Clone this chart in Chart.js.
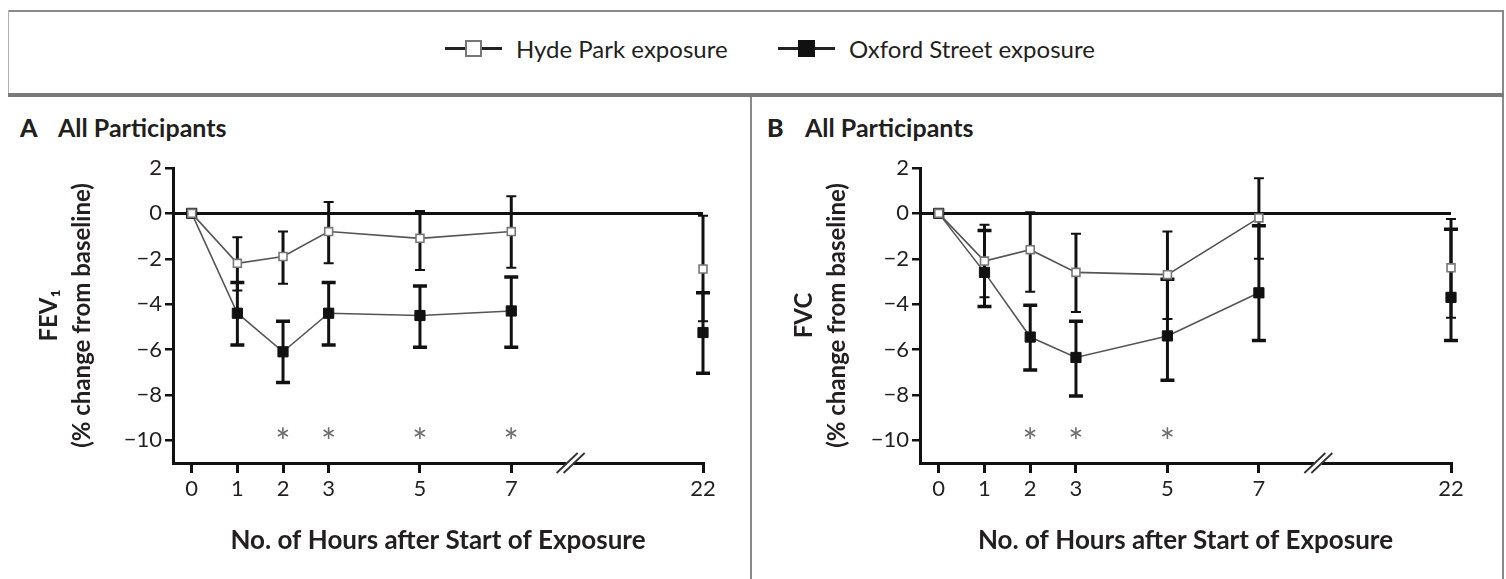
<!DOCTYPE html>
<html>
<head>
<meta charset="utf-8">
<script src="https://cdn.jsdelivr.net/npm/chart.js@4.4.1/dist/chart.umd.min.js"></script>
<style>
    body { margin: 0; width: 1506px; height: 579px; background: #fff; position: relative; overflow: hidden; font-family: Lato, 'Open Sans', sans-serif; color: #231f20; }
    .rule { position: absolute; background: #8a8a8a; }
    .legend-item { position: absolute; top: 34px; height: 28px; display: flex; align-items: center; font-size: 24px; }
    .sym { position: relative; display: inline-block; width: 57px; height: 17px; margin-right: 14px; }
    .sym::before { content: ''; position: absolute; left: 0; right: 0; top: 7px; height: 3px; background: #222; }
    .sq { position: absolute; left: 20px; top: 0; width: 17px; height: 17px; box-sizing: border-box; }
    .sq.open { background: #fff; border: 2px solid #777; }
    .sq.filled { background: #111; }
    .panel-title { position: absolute; top: 112px; font-size: 25px; font-weight: 700; line-height: 30px; white-space: nowrap; }
    .panel-title b { display: inline-block; width: 38px; }
    canvas { position: absolute; top: 97px; }
</style>
</head>
<body>
<div class="rule" style="left:8px; top:10px; width:1496px; height:2px;"></div>
<div class="rule" style="left:8px; top:10px; width:1px; height:85px; background:#b0b0b0;"></div>
<div class="rule" style="left:1502px; top:10px; width:2px; height:569px;"></div>
<div class="rule" style="left:8px; top:93px; width:1496px; height:4px; background:#7a7a7a;"></div>
<div class="rule" style="left:750px; top:97px; width:2px; height:482px;"></div>

<div class="legend-item" style="left:445px;"><span class="sym"><span class="sq open"></span></span>Hyde Park exposure</div>
<div class="legend-item" style="left:778px;"><span class="sym"><span class="sq filled"></span></span>Oxford Street exposure</div>

<div class="panel-title" style="left:20px;"><b>A</b>All Participants</div>
<div class="panel-title" style="left:767px;"><b>B</b>All Participants</div>

<canvas id="chartA" width="742" height="482" style="left:8px;"></canvas>
<canvas id="chartB" width="750" height="482" style="left:752px;"></canvas>

<script>
// hours after start of exposure; 22 sits after the axis break
const HOURS = [0, 1, 2, 3, 5, 7, 22];
const HOUR_LABELS = ['0', '1', '2', '3', '5', '7', '22'];
const Y_TICKS = [2, 0, -2, -4, -6, -8, -10];

// panel A: FEV1 (% change from baseline)
const HYDE_FEV1 = [0, -2.2, -1.9, -0.8, -1.1, -0.8, -2.45];
const HYDE_FEV1_LOW = [0, -3.4, -3.1, -2.2, -2.5, -2.4, -4.75];
const HYDE_FEV1_HIGH = [0, -1.05, -0.8, 0.5, 0.1, 0.75, -0.1];
const OXFORD_FEV1 = [0, -4.4, -6.1, -4.4, -4.5, -4.3, -5.25];
const OXFORD_FEV1_LOW = [0, -5.8, -7.45, -5.8, -5.9, -5.9, -7.05];
const OXFORD_FEV1_HIGH = [0, -3.05, -4.75, -3.05, -3.2, -2.8, -3.5];
const SIG_HOURS_A = [2, 3, 5, 7];

// panel B: FVC (% change from baseline)
const HYDE_FVC = [0, -2.1, -1.6, -2.6, -2.7, -0.2, -2.4];
const HYDE_FVC_LOW = [0, -3.7, -3.45, -4.35, -4.65, -2.0, -4.6];
const HYDE_FVC_HIGH = [0, -0.5, 0.05, -0.9, -0.8, 1.55, -0.25];
const OXFORD_FVC = [0, -2.6, -5.45, -6.35, -5.4, -3.5, -3.7];
const OXFORD_FVC_LOW = [0, -4.1, -6.9, -8.05, -7.35, -5.6, -5.6];
const OXFORD_FVC_HIGH = [0, -0.75, -4.05, -4.75, -2.9, -0.55, -0.7];
const SIG_HOURS_B = [2, 3, 5];

// axis layout for the broken x axis
const X_MIN = -0.41;
const POS_AFTER_BREAK = 11.2;
const BREAK_MARK = 8.3;
const SIG_Y = -10.15;

const INK = '#231f20';
const LINE_COLOR = '#555';

function toAxis(hour) {
    return hour > 7 ? POS_AFTER_BREAK : hour;
}

function points(values) {
    return values.map((v, i) => ({ x: toAxis(HOURS[i]), y: v }));
}

const panelDecor = {
    id: 'panelDecor',
    beforeDatasetsDraw(chart) {
        const { ctx, chartArea, scales: { x, y } } = chart;
        ctx.save();
        // baseline at 0
        ctx.strokeStyle = '#111';
        ctx.lineWidth = 3;
        const y0 = y.getPixelForValue(0);
        ctx.beginPath();
        ctx.moveTo(chartArea.left, y0);
        ctx.lineTo(chartArea.right, y0);
        ctx.stroke();

        // error bars
        chart.data.datasets.forEach((ds) => {
            if (!ds.errLow) {
                return;
            }
            ds.data.forEach((pt, j) => {
                const lo = ds.errLow[j];
                const hi = ds.errHigh[j];
                if (lo === hi) {
                    return;
                }
                const px = x.getPixelForValue(pt.x);
                const yLo = y.getPixelForValue(lo);
                const yHi = y.getPixelForValue(hi);
                ctx.lineWidth = 3;
                ctx.beginPath();
                ctx.moveTo(px, yLo);
                ctx.lineTo(px, yHi);
                ctx.stroke();
                ctx.lineWidth = ds.capThickness;
                ctx.beginPath();
                ctx.moveTo(px - ds.capHalf, yLo);
                ctx.lineTo(px + ds.capHalf, yLo);
                ctx.moveTo(px - ds.capHalf, yHi);
                ctx.lineTo(px + ds.capHalf, yHi);
                ctx.stroke();
            });
        });
        ctx.restore();
    },
    afterDraw(chart) {
        const { ctx, chartArea, scales: { x, y } } = chart;
        const opts = chart.options.plugins.panelDecor;
        ctx.save();

        // significance asterisks
        ctx.fillStyle = '#6d6d6d';
        ctx.font = '36px Lato, sans-serif';
        ctx.textAlign = 'center';
        ctx.textBaseline = 'middle';
        opts.sigHours.forEach((h) => {
            ctx.fillText('*', x.getPixelForValue(toAxis(h)), y.getPixelForValue(SIG_Y));
        });

        // axis break "//"
        const bx = x.getPixelForValue(BREAK_MARK);
        const by = chartArea.bottom;
        ctx.fillStyle = '#fff';
        ctx.fillRect(bx - 4, by - 3, 7, 6);
        ctx.strokeStyle = '#333';
        ctx.lineWidth = 1.8;
        ctx.beginPath();
        ctx.moveTo(bx - 14, by + 10);
        ctx.lineTo(bx + 7, by - 10);
        ctx.moveTo(bx - 7, by + 10);
        ctx.lineTo(bx + 14, by - 10);
        ctx.stroke();
        ctx.restore();
    }
};

function buildPanel(canvasId, cfg) {
    const canvas = document.getElementById(canvasId);
    const hideBreakSegment = (color) => (c) => (c.p1DataIndex === HOURS.length - 1 ? 'rgba(0,0,0,0)' : color);

    return new Chart(canvas, {
        type: 'line',
        data: {
            datasets: [
                {
                    label: 'Hyde Park exposure',
                    data: points(cfg.hyde),
                    errLow: cfg.hydeLow,
                    errHigh: cfg.hydeHigh,
                    capHalf: 5,
                    capThickness: 2,
                    borderColor: LINE_COLOR,
                    borderWidth: 1.6,
                    pointStyle: 'rect',
                    pointRadius: 5.6,
                    pointBackgroundColor: '#fff',
                    pointBorderColor: '#777',
                    pointBorderWidth: 1.6,
                    segment: { borderColor: hideBreakSegment(LINE_COLOR) },
                    clip: false
                },
                {
                    label: 'Oxford Street exposure',
                    data: points(cfg.oxford),
                    errLow: cfg.oxfordLow,
                    errHigh: cfg.oxfordHigh,
                    capHalf: 7,
                    capThickness: 3.5,
                    borderColor: LINE_COLOR,
                    borderWidth: 1.6,
                    pointStyle: 'rect',
                    pointRadius: 7.2,
                    pointBackgroundColor: '#111',
                    pointBorderColor: '#111',
                    pointBorderWidth: 1,
                    segment: { borderColor: hideBreakSegment(LINE_COLOR) },
                    clip: false
                }
            ]
        },
        options: {
            responsive: false,
            animation: false,
            devicePixelRatio: 1,
            layout: { padding: { top: 71, right: cfg.rightPad, bottom: 0, left: 0 } },
            plugins: {
                legend: { display: false },
                tooltip: { enabled: false },
                panelDecor: { sigHours: cfg.sigHours }
            },
            scales: {
                x: {
                    type: 'linear',
                    min: X_MIN,
                    max: POS_AFTER_BREAK,
                    afterBuildTicks(scale) {
                        scale.ticks = HOURS.map((h) => ({ value: toAxis(h) }));
                    },
                    afterFit(scale) {
                        scale.height = 116;
                    },
                    border: { display: true, color: '#111', width: 3 },
                    grid: { drawOnChartArea: false, drawTicks: true, tickLength: 10, color: '#111', lineWidth: 3 },
                    ticks: {
                        padding: 3,
                        maxRotation: 0,
                        autoSkip: false,
                        color: INK,
                        font: { family: 'Lato', size: 22 },
                        callback(value, index) {
                            return HOUR_LABELS[index];
                        }
                    },
                    title: {
                        display: true,
                        text: 'No. of Hours after Start of Exposure',
                        color: INK,
                        font: { family: 'Lato', size: 26, weight: 'bold' },
                        padding: { top: 0, bottom: 23 }
                    }
                },
                y: {
                    min: -11,
                    max: 2,
                    afterBuildTicks(scale) {
                        scale.ticks = Y_TICKS.map((v) => ({ value: v }));
                    },
                    afterFit(scale) {
                        scale.width = cfg.yAxisWidth;
                    },
                    border: { display: true, color: '#111', width: 3 },
                    grid: { drawOnChartArea: false, drawTicks: true, tickLength: 8, color: '#111', lineWidth: 2.5 },
                    ticks: {
                        padding: 3,
                        color: INK,
                        font: { family: 'Lato', size: 22 },
                        callback(value) {
                            return value < 0 ? '\u2212' + Math.abs(value) : String(value);
                        }
                    },
                    title: {
                        display: true,
                        text: cfg.yTitle,
                        color: INK,
                        font: { family: 'Lato', size: 24, weight: 'bold', lineHeight: 1.4 },
                        padding: { top: cfg.yTitlePad, bottom: 0 }
                    }
                }
            }
        },
        plugins: [panelDecor]
    });
}

buildPanel('chartA', {
    hyde: HYDE_FEV1,
    hydeLow: HYDE_FEV1_LOW,
    hydeHigh: HYDE_FEV1_HIGH,
    oxford: OXFORD_FEV1,
    oxfordLow: OXFORD_FEV1_LOW,
    oxfordHigh: OXFORD_FEV1_HIGH,
    sigHours: SIG_HOURS_A,
    yTitle: ['FEV\u2081', '(% change from baseline)'],
    yTitlePad: 24,
    yAxisWidth: 165,
    rightPad: 47
});

buildPanel('chartB', {
    hyde: HYDE_FVC,
    hydeLow: HYDE_FVC_LOW,
    hydeHigh: HYDE_FVC_HIGH,
    oxford: OXFORD_FVC,
    oxfordLow: OXFORD_FVC_LOW,
    oxfordHigh: OXFORD_FVC_HIGH,
    sigHours: SIG_HOURS_B,
    yTitle: ['FVC', '(% change from baseline)'],
    yTitlePad: 35,
    yAxisWidth: 168,
    rightPad: 51
});
</script>
</body>
</html>
